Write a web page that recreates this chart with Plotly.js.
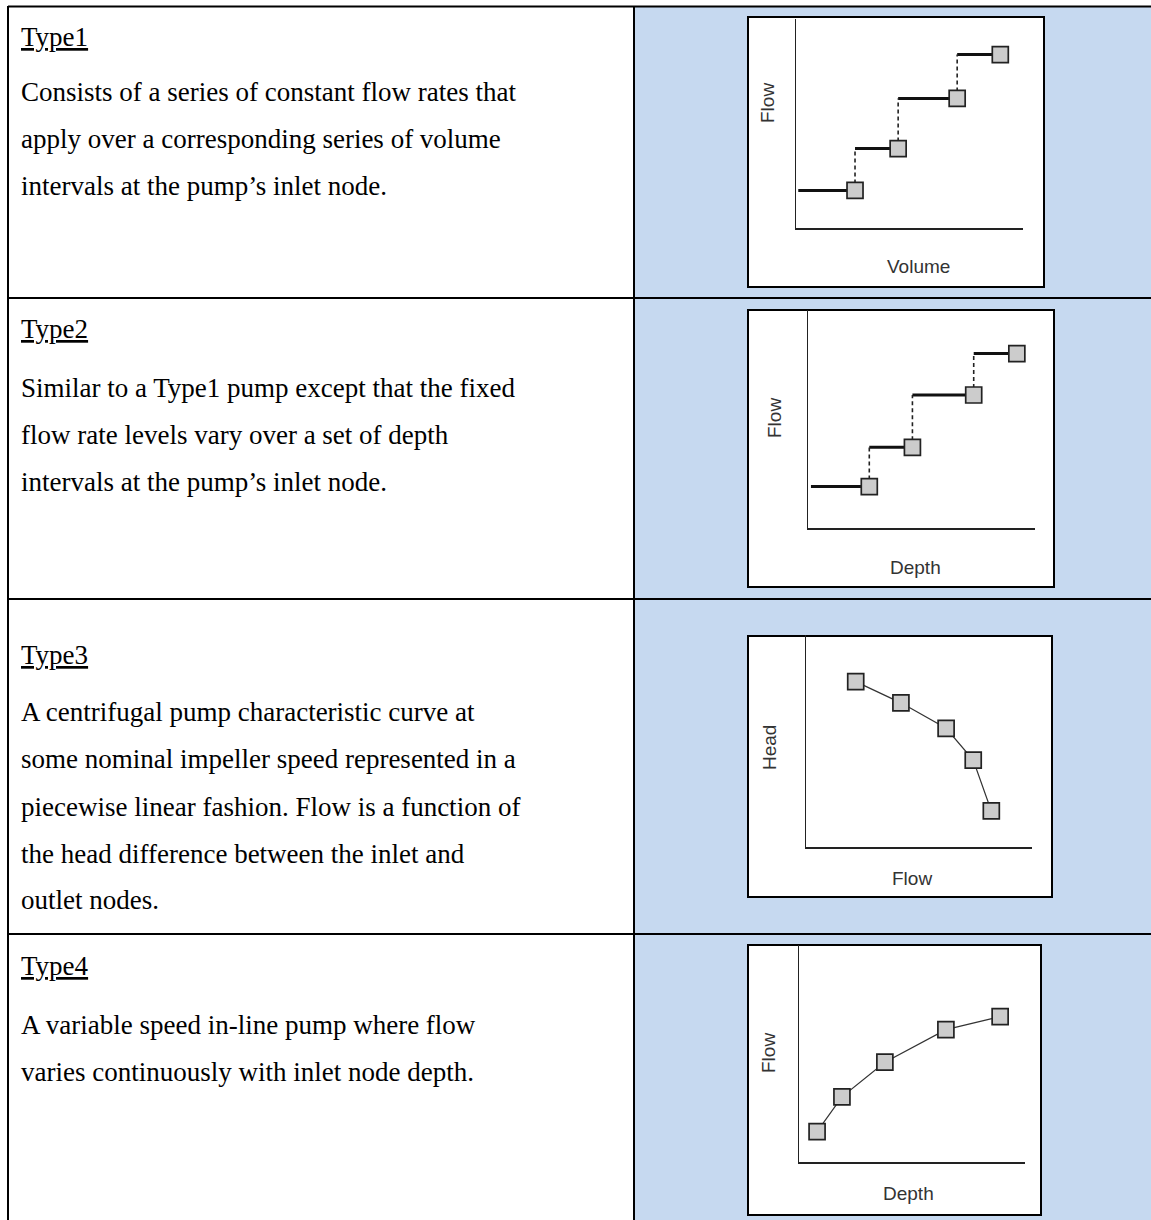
<!DOCTYPE html>
<html>
<head>
<meta charset="utf-8">
<script src="https://cdn.plot.ly/plotly-3.0.1.min.js"></script>
<style>html,body{margin:0;padding:0;background:#fff;}#chart{width:1151px;height:1220px;}</style>
</head>
<body>
<div id="chart"></div>
<script>
// ---------- data ----------
const typeTitles = ["Type1", "Type2", "Type3", "Type4"];
const type1Text = ["Consists of a series of constant flow rates that", "apply over a corresponding series of volume", "intervals at the pump\u2019s inlet node."];
const type2Text = ["Similar to a Type1 pump except that the fixed", "flow rate levels vary over a set of depth", "intervals at the pump\u2019s inlet node."];
const type3Text = ["A centrifugal pump characteristic curve at", "some nominal impeller speed represented in a", "piecewise linear fashion. Flow is a function of", "the head difference between the inlet and", "outlet nodes."];
const type4Text = ["A variable speed in-line pump where flow", "varies continuously with inlet node depth."];

const xLabels = ["Volume", "Depth", "Flow", "Depth"];
const yLabels = ["Flow", "Flow", "Head", "Flow"];

// Type1: flow vs volume (step curve)
const type1Volume = [2.6, 4.5, 7.1, 9.0];
const type1Flow   = [1.8, 3.8, 6.2, 8.3];
const type1Start  = 0.1;
// Type2: flow vs depth (step curve)
const type2Depth = [2.7, 4.6, 7.3, 9.2];
const type2Flow  = [1.9, 3.7, 6.1, 8.0];
const type2Start = 0.13;
// Type3: head vs flow
const type3Flow = [2.2, 4.2, 6.2, 7.4, 8.2];
const type3Head = [7.8, 6.8, 5.6, 4.1, 1.7];
// Type4: flow vs depth
const type4Depth = [0.8, 1.9, 3.8, 6.5, 8.9];
const type4Flow  = [1.4, 3.0, 4.6, 6.1, 6.7];

// ---------- layout helpers ----------
const W = 1151, H = 1220;
const px = x => x / W;
const py = y => 1 - y / H;

const markerStyle = {symbol: "square", size: 16, color: "#cccccc", line: {color: "#222", width: 1.7}};

function stepTraces(xs, ys, x0, xa, ya) {
  const hx = [], hy = [], vx = [], vy = [];
  let prev = x0;
  for (let i = 0; i < xs.length; i++) {
    hx.push(prev, xs[i], null); hy.push(ys[i], ys[i], null);
    prev = xs[i];
    if (i < xs.length - 1) { vx.push(xs[i], xs[i], null); vy.push(ys[i], ys[i + 1], null); }
  }
  return [
    {type: "scatter", mode: "lines", x: hx, y: hy, xaxis: xa, yaxis: ya, line: {color: "#111", width: 3}, hoverinfo: "skip", showlegend: false},
    {type: "scatter", mode: "lines", x: vx, y: vy, xaxis: xa, yaxis: ya, line: {color: "#222", width: 1.6, dash: "4px,3px"}, hoverinfo: "skip", showlegend: false},
    {type: "scatter", mode: "markers", x: xs, y: ys, xaxis: xa, yaxis: ya, marker: markerStyle, showlegend: false, cliponaxis: false}
  ];
}
function curveTrace(xs, ys, xa, ya) {
  return {type: "scatter", mode: "lines+markers", x: xs, y: ys, xaxis: xa, yaxis: ya,
    line: {color: "#333", width: 1.2}, marker: markerStyle, showlegend: false, cliponaxis: false};
}

const traces = [
  ...stepTraces(type1Volume, type1Flow, type1Start, "x", "y"),
  ...stepTraces(type2Depth, type2Flow, type2Start, "x2", "y2"),
  curveTrace(type3Flow, type3Head, "x3", "y3"),
  curveTrace(type4Depth, type4Flow, "x4", "y4")
];

// inner axes pixel boxes: [left, right, bottom, top]
const axBoxes = [
  [796, 1023, 228, 19],
  [808, 1035, 528, 310],
  [806, 1032, 847, 635],
  [799, 1025, 1162, 945]
];
// panel boxes: [x0, y0, x1, y1]
const panels = [
  [748, 17, 1044, 287],
  [748, 310, 1054, 587],
  [748, 636, 1052, 897],
  [748, 945, 1041, 1215]
];
const xLabelPos = [[918, 267], [915, 567], [912, 878], [908, 1193]];
const yLabelPos = [[767, 103], [775, 418], [769, 748], [768, 1053]];

const layout = {
  width: W, height: H, autosize: false,
  margin: {l: 0, r: 0, t: 0, b: 0, pad: 0},
  paper_bgcolor: "#ffffff", plot_bgcolor: "rgba(0,0,0,0)",
  showlegend: false, hovermode: false,
  shapes: [], annotations: []
};

axBoxes.forEach((b, i) => {
  const n = i === 0 ? "" : String(i + 1);
  const common = {range: [0, 10], showline: true, linecolor: "#222", linewidth: 1.5, showgrid: false,
    zeroline: false, showticklabels: false, ticks: "", fixedrange: true};
  layout["xaxis" + n] = Object.assign({}, common, {domain: [px(b[0]), px(b[1])], anchor: "y" + n});
  layout["yaxis" + n] = Object.assign({}, common, {domain: [py(b[2]), py(b[3])], anchor: "x" + n});
});

// blue column background
layout.shapes.push({type: "rect", xref: "paper", yref: "paper", x0: px(635), x1: px(1151), y0: py(1220), y1: py(7),
  fillcolor: "#c6d9f0", line: {width: 0}, layer: "below"});
// panel boxes
panels.forEach(p => {
  layout.shapes.push({type: "rect", xref: "paper", yref: "paper", x0: px(p[0]), x1: px(p[2]), y0: py(p[3]), y1: py(p[1]),
    fillcolor: "#ffffff", line: {color: "#000", width: 2}, layer: "below"});
});
// table lines
const hLines = [6.5, 298, 599, 934];
hLines.forEach(y => layout.shapes.push({type: "line", xref: "paper", yref: "paper", x0: px(8), x1: px(1151), y0: py(y), y1: py(y), line: {color: "#000", width: 2}}));
[8, 634].forEach(x => layout.shapes.push({type: "line", xref: "paper", yref: "paper", x0: px(x), x1: px(x), y0: py(6), y1: py(1220), line: {color: "#000", width: 2}}));

// axis labels
const labelFont = {family: "Liberation Sans, Arial, sans-serif", size: 19, color: "#333"};
xLabels.forEach((t, i) => layout.annotations.push({text: t, xref: "paper", yref: "paper", x: px(xLabelPos[i][0]), y: py(xLabelPos[i][1]),
  xanchor: "center", yanchor: "middle", showarrow: false, font: labelFont}));
yLabels.forEach((t, i) => layout.annotations.push({text: t, xref: "paper", yref: "paper", x: px(yLabelPos[i][0]), y: py(yLabelPos[i][1]),
  xanchor: "center", yanchor: "middle", textangle: -90, showarrow: false, font: labelFont}));

// left column text
const textFont = {family: "Liberation Serif, Times New Roman, serif", size: 27, color: "#000"};
const titleY = [37, 329, 655, 966];
const bodies = [type1Text, type2Text, type3Text, type4Text];
const bodyY = [[92, 139, 186], [388, 435, 482], [712, 759, 807, 854, 900], [1025, 1072]];
typeTitles.forEach((t, i) => {
  layout.annotations.push({text: "<u>" + t + "</u>", xref: "paper", yref: "paper", x: px(19), y: py(titleY[i]),
    xanchor: "left", yanchor: "middle", showarrow: false, font: textFont});
  bodies[i].forEach((line, j) => layout.annotations.push({text: line, xref: "paper", yref: "paper", x: px(19), y: py(bodyY[i][j]),
    xanchor: "left", yanchor: "middle", showarrow: false, font: textFont}));
});

Plotly.newPlot("chart", traces, layout, {staticPlot: true, displayModeBar: false});
</script>
</body>
</html>
